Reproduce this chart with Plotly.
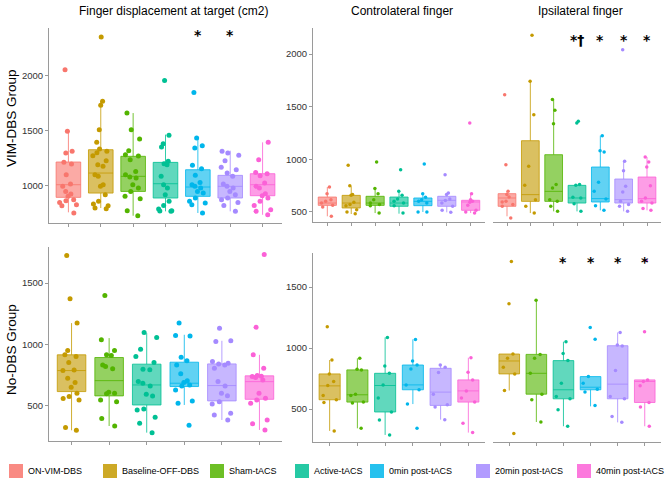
import plotly.graph_objects as go

# ---------------- DATA ----------------
categories = ["ON-VIM-DBS", "Baseline-OFF-DBS", "Sham-tACS", "Active-tACS",
              "0min post-tACS", "20min post-tACS", "40min post-tACS"]
colors = ["#F8766D", "#C49A00", "#53B400", "#00C094", "#00B6EB", "#A58AFF", "#FB61D7"]

col_titles = ["Finger displacement at target (cm2)", "Controlateral finger", "Ipsilateral finger"]
row_titles = ["VIM-DBS Group", "No-DBS Group"]
y_ticks = [500, 1000, 1500, 2000]

# VIM-DBS group, finger displacement (7 conditions)
vim_disp_points = [
    [2054, 1494, 1312, 1297, 1212, 1197, 1100, 1015, 994, 948, 924, 903, 873, 864, 848, 827, 818, 752],
    [2351, 1767, 1730, 1509, 1394, 1333, 1312, 1300, 1273, 1227, 1191, 1176, 1100, 1085, 1009, 994, 918, 858, 833, 818, 797, 790],
    [1660, 1509, 1424, 1318, 1282, 1270, 1236, 1130, 1100, 1080, 1070, 1009, 979, 948, 903, 882, 773, 727],
    [1957, 1458, 1382, 1351, 1221, 1200, 1191, 1085, 1009, 979, 918, 858, 821, 788, 773, 770, 767],
    [1848, 1433, 1364, 1342, 1185, 1155, 1094, 1030, 1009, 994, 979, 948, 933, 888, 858, 842, 827, 752],
    [1312, 1297, 1276, 1227, 1167, 1145, 1115, 1085, 1015, 994, 979, 948, 918, 888, 873, 848, 821, 767],
    [1394, 1236, 1121, 1109, 1091, 1024, 994, 979, 927, 909, 888, 858, 821, 782, 767, 736],
]
vim_disp_q1 = [894, 933, 948, 888, 903, 888, 909]
vim_disp_med = [1009, 1115, 1085, 1018, 988, 994, 1009]
vim_disp_q3 = [1215, 1327, 1267, 1212, 1145, 1094, 1109]
vim_disp_lo = [758, 797, 727, 767, 752, 767, 736]
vim_disp_hi = [1494, 1767, 1660, 1464, 1433, 1318, 1394]

# VIM-DBS group, controlateral finger
vim_contra_points = [
    [737, 674, 617, 601, 585, 563, 547, 459],
    [943, 750, 665, 658, 592, 570, 560, 522, 500, 484],
    [975, 722, 674, 617, 585, 570, 560, 490],
    [902, 696, 658, 623, 601, 585, 560, 490],
    [956, 674, 639, 617, 601, 585, 500, 500],
    [854, 680, 665, 623, 608, 585, 554, 516, 497],
    [1345, 674, 617, 601, 592, 563, 516, 500, 490],
]
vim_contra_q1 = [563, 538, 563, 554, 560, 554, 516]
vim_contra_med = [585, 585, 585, 585, 601, 611, 595]
vim_contra_q3 = [642, 658, 649, 642, 633, 649, 611]
vim_contra_lo = [459, 481, 490, 484, 500, 497, 490]
vim_contra_hi = [737, 744, 728, 696, 674, 680, 674]

# VIM-DBS group, ipsilateral finger
vim_ipsi_points = [
    [1614, 949, 696, 665, 642, 601, 595, 570, 554, 443],
    [2177, 1741, 1424, 934, 753, 617, 554, 490],
    [1567, 1465, 1339, 760, 728, 617, 601, 554, 506],
    [1361, 1345, 760, 753, 633, 639, 579, 506],
    [1225, 1082, 1070, 782, 696, 623, 560, 516],
    [2041, 981, 892, 744, 690, 601, 570, 554, 506],
    [1022, 975, 927, 750, 633, 601, 585, 532, 516],
]
vim_ipsi_q1 = [554, 601, 601, 585, 595, 585, 585]
vim_ipsi_med = [633, 665, 696, 633, 627, 617, 627]
vim_ipsi_q3 = [674, 1177, 1044, 753, 927, 813, 832]
vim_ipsi_lo = [459, 490, 506, 506, 516, 506, 516]
vim_ipsi_hi = [696, 1734, 1567, 760, 1225, 981, 1022]

# No-DBS group (6 conditions: Baseline .. 40min)
nodbs_disp_points = [
    [1723, 1372, 1174, 951, 916, 902, 853, 793, 788, 726, 690, 652, 603, 576, 560, 549, 324, 302],
    [1399, 1038, 951, 916, 910, 834, 821, 802, 611, 603, 600, 549, 535, 397, 337],
    [1098, 1057, 962, 902, 853, 799, 795, 698, 685, 663, 595, 582, 476, 467, 408, 359, 283],
    [1174, 1073, 1070, 897, 867, 834, 761, 706, 690, 671, 663, 630, 541, 522, 343],
    [1133, 1030, 1024, 861, 848, 842, 834, 807, 698, 663, 603, 584, 535, 516, 440, 427, 386],
    [1731, 1141, 916, 807, 747, 742, 739, 731, 712, 603, 562, 549, 522, 386, 356, 305],
]
nodbs_disp_q1 = [617, 582, 508, 658, 541, 554]
nodbs_disp_med = [788, 706, 671, 685, 666, 698]
nodbs_disp_q3 = [916, 894, 840, 856, 842, 745]
nodbs_disp_lo = [302, 337, 283, 508, 386, 305]
nodbs_disp_hi = [1174, 1052, 1092, 1079, 1030, 916]

nodbs_contra_points = [
    [1174, 902, 788, 726, 693, 611, 576, 554, 321],
    [916, 826, 821, 622, 611, 557, 549, 342],
    [1087, 853, 793, 698, 590, 476, 410, 288],
    [1071, 894, 861, 829, 698, 658, 541, 342],
    [861, 842, 799, 622, 535, 516, 413],
    [921, 802, 739, 649, 590, 557, 383, 307],
]
nodbs_contra_q1 = [576, 557, 476, 658, 530, 557]
nodbs_contra_med = [690, 617, 693, 698, 639, 649]
nodbs_contra_q3 = [788, 821, 793, 861, 834, 739]
nodbs_contra_lo = [321, 342, 288, 541, 413, 307]
nodbs_contra_hi = [902, 916, 1087, 1071, 861, 921]

nodbs_ipsi_points = [
    [1709, 1364, 951, 916, 842, 788, 652, 300],
    [1391, 948, 916, 793, 622, 576, 394],
    [1052, 956, 897, 712, 603, 584, 495, 359],
    [1168, 1073, 766, 712, 663, 639, 530],
    [1128, 1024, 1016, 815, 603, 584, 440, 391],
    [1717, 1133, 739, 726, 690, 554, 516, 359],
]
nodbs_ipsi_q1 = [788, 622, 584, 658, 584, 554]
nodbs_ipsi_med = [894, 793, 658, 679, 704, 726]
nodbs_ipsi_q3 = [951, 948, 897, 766, 1019, 739]
nodbs_ipsi_lo = [652, 394, 359, 522, 391, 359]
nodbs_ipsi_hi = [951, 1391, 1052, 766, 1128, 739]

# significance markers: (category index within panel, label, y value)
vim_disp_sig = [(4, "*", 2365), (5, "*", 2365)]
vim_ipsi_sig = [(3, "*†", 2135), (4, "*", 2135), (5, "*", 2135), (6, "*", 2135)]
nodbs_ipsi_sig = [(2, "*", 1702), (3, "*", 1702), (4, "*", 1702), (5, "*", 1702)]

# ---------------- LAYOUT HELPERS ----------------
W, H = 669, 486
FONT = "Liberation Sans, Arial, sans-serif"
AXC = "#9a9a9a"


def px(x):
    return x / W


def py(y):
    return 1 - y / H


def rgba(hexc, a):
    h = hexc.lstrip("#")
    r, g, b = int(h[0:2], 16), int(h[2:4], 16), int(h[4:6], 16)
    return f"rgba({r},{g},{b},{a})"


panels = [
    dict(pts=vim_disp_points, q1=vim_disp_q1, med=vim_disp_med, q3=vim_disp_q3, lo=vim_disp_lo, hi=vim_disp_hi,
         c0=0, xd=(49, 282), yd=(28, 223), yr=(661, 2433), yline=True, ms=5, sig=vim_disp_sig),
    dict(pts=vim_contra_points, q1=vim_contra_q1, med=vim_contra_med, q3=vim_contra_q3, lo=vim_contra_lo, hi=vim_contra_hi,
         c0=0, xd=(313, 485), yd=(28, 222), yr=(405, 2247), yline=True, ms=3.5, sig=[]),
    dict(pts=vim_ipsi_points, q1=vim_ipsi_q1, med=vim_ipsi_med, q3=vim_ipsi_q3, lo=vim_ipsi_lo, hi=vim_ipsi_hi,
         c0=0, xd=(493, 661), yd=(28, 222), yr=(405, 2247), yline=False, ms=3.5, sig=vim_ipsi_sig),
    dict(pts=nodbs_disp_points, q1=nodbs_disp_q1, med=nodbs_disp_med, q3=nodbs_disp_q3, lo=nodbs_disp_lo, hi=nodbs_disp_hi,
         c0=1, xd=(49, 282), yd=(247, 441), yr=(215, 1793), yline=True, ms=5, sig=[]),
    dict(pts=nodbs_contra_points, q1=nodbs_contra_q1, med=nodbs_contra_med, q3=nodbs_contra_q3, lo=nodbs_contra_lo, hi=nodbs_contra_hi,
         c0=1, xd=(313, 485), yd=(253, 442), yr=(230, 1779), yline=True, ms=3.5, sig=[]),
    dict(pts=nodbs_ipsi_points, q1=nodbs_ipsi_q1, med=nodbs_ipsi_med, q3=nodbs_ipsi_q3, lo=nodbs_ipsi_lo, hi=nodbs_ipsi_hi,
         c0=1, xd=(493, 661), yd=(253, 442), yr=(230, 1779), yline=False, ms=3.5, sig=nodbs_ipsi_sig),
]

fig = go.Figure()
layout = dict(width=W, height=H, margin=dict(l=0, r=0, t=0, b=0),
              paper_bgcolor="white", plot_bgcolor="white", showlegend=False,
              boxmode="overlay", font=dict(family=FONT, color="#333333"))
annotations = []
shapes = []

for n, p in enumerate(panels, start=1):
    ax = "" if n == 1 else str(n)
    ncat = len(p["pts"])
    for i in range(ncat):
        col = colors[p["c0"] + i]
        fig.add_trace(go.Box(
            x=[i], q1=[p["q1"][i]], median=[p["med"][i]], q3=[p["q3"][i]],
            lowerfence=[p["lo"][i]], upperfence=[p["hi"][i]],
            width=0.76, fillcolor=rgba(col, 0.62), line=dict(color=rgba(col, 0.8), width=1),
            whiskerwidth=0, boxpoints=False, hoverinfo="skip",
            xaxis="x" + ax, yaxis="y" + ax))
        fig.add_trace(go.Box(
            x=[i] * len(p["pts"][i]), y=p["pts"][i],
            width=0.76, boxpoints="all", jitter=0.85, pointpos=0,
            fillcolor="rgba(0,0,0,0)", line=dict(color="rgba(0,0,0,0)", width=0),
            whiskerwidth=0, marker=dict(color=col, size=p["ms"]), hoverinfo="skip",
            xaxis="x" + ax, yaxis="y" + ax))
    layout["xaxis" + ax] = dict(
        domain=[px(p["xd"][0]), px(p["xd"][1])], range=[-0.6, ncat - 0.4],
        anchor="y" + ax, tickvals=list(range(ncat)), ticktext=[""] * ncat,
        ticks="outside", ticklen=3, tickcolor=AXC, showline=True, linecolor=AXC,
        linewidth=1, showgrid=False, zeroline=False)
    layout["yaxis" + ax] = dict(
        domain=[py(p["yd"][1]), py(p["yd"][0])], range=list(p["yr"]),
        anchor="x" + ax, tickvals=y_ticks, showticklabels=p["yline"],
        ticks="outside" if p["yline"] else "", ticklen=3, tickcolor=AXC,
        showline=p["yline"], linecolor=AXC, linewidth=1, showgrid=False,
        zeroline=False, tickfont=dict(size=9.5, color="#333333"))
    for (ci, lab, yv) in p["sig"]:
        annotations.append(dict(x=ci, y=yv, xref="x" + ax, yref="y" + ax, text="<b>" + lab + "</b>",
                                showarrow=False,
                                font=dict(size=14, color="black", family="DejaVu Sans, sans-serif"),
                                xanchor="center", yanchor="middle"))

# column titles
for txt, xc in zip(col_titles, [173, 402, 580]):
    annotations.append(dict(x=px(xc), y=py(11), xref="paper", yref="paper", text=txt,
                            showarrow=False, font=dict(size=12, color="black"),
                            xanchor="center", yanchor="middle"))
# row titles
for txt, yc in zip(row_titles, [118, 350]):
    annotations.append(dict(x=px(11), y=py(yc), xref="paper", yref="paper", text=txt,
                            showarrow=False, textangle=-90, font=dict(size=13.5, color="black"),
                            xanchor="center", yanchor="middle"))

# legend (manual)
leg_sq_x = [9, 103, 210, 295, 370, 476, 577]
leg_y = 471
for cat, col, lx in zip(categories, colors, leg_sq_x):
    shapes.append(dict(type="rect", xref="paper", yref="paper",
                       x0=px(lx), x1=px(lx + 14), y0=py(leg_y + 7), y1=py(leg_y - 7),
                       fillcolor=rgba(col, 0.85), line=dict(width=0)))
    annotations.append(dict(x=px(lx + 17), y=py(leg_y), xref="paper", yref="paper", text=cat,
                            showarrow=False, font=dict(size=9, color="black"),
                            xanchor="left", yanchor="middle"))

layout["annotations"] = annotations
layout["shapes"] = shapes
fig.update_layout(**layout)
fig.write_html("out.html", config={"displayModeBar": False},
               post_script="document.body.style.margin='0';")
